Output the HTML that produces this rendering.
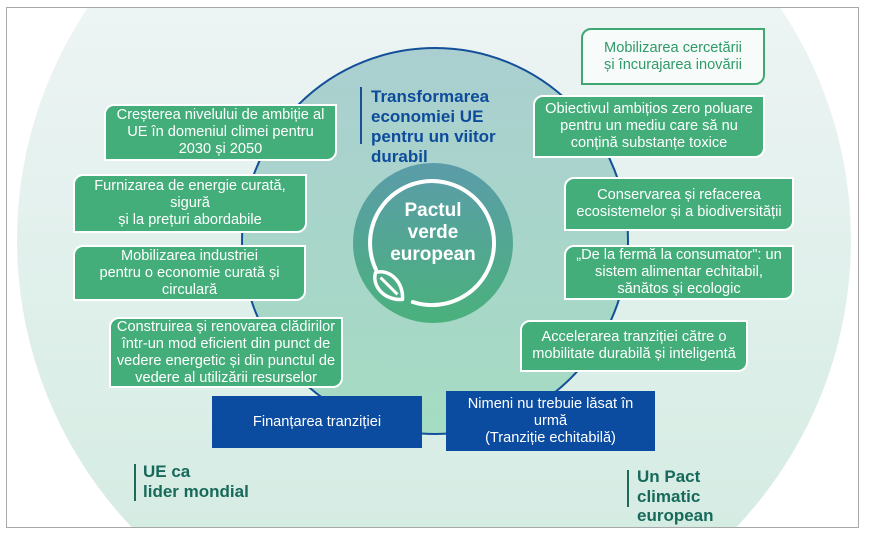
<!DOCTYPE html>
<html><head><meta charset="utf-8">
<style>
html,body{margin:0;padding:0;background:#fff;}
body{width:869px;height:538px;position:relative;overflow:hidden;font-family:"Liberation Sans",Arial,sans-serif;}
.b{position:absolute;box-sizing:border-box;display:flex;align-items:center;justify-content:center;text-align:center;color:#fff;font-size:14.6px;line-height:17px;white-space:nowrap;}
.g{background:#44ae7b;border:2px solid #fff;border-radius:10px 0 10px 0;}
.w{background:#f7fbfa;border:2px solid #3fa872;border-radius:10px 0 10px 0;color:#2f9a68;}
.bl{background:#0b4ca0;}
.lab{position:absolute;font-weight:bold;font-size:17px;line-height:20px;white-space:nowrap;}
</style></head><body>
<svg width="869" height="538" style="position:absolute;left:0;top:0;overflow:hidden">
<defs>
<linearGradient id="pale" x1="0" y1="0" x2="0" y2="1"><stop offset="0" stop-color="#edf4f4"/><stop offset="1" stop-color="#d5ece3"/></linearGradient>
<linearGradient id="mid" x1="0" y1="0" x2="0" y2="1"><stop offset="0" stop-color="#abcfd0"/><stop offset="1" stop-color="#a5dcc3"/></linearGradient>
<linearGradient id="inn" x1="0" y1="0" x2="0" y2="1"><stop offset="0" stop-color="#5b9ca9"/><stop offset="1" stop-color="#4ab17c"/></linearGradient>
</defs>
<path d="M87.5,8 L780.5,8 A417,417 0 0 1 736.5,527 L131.5,527 A417,417 0 0 1 87.5,8 Z" fill="url(#pale)"/>
<circle cx="435" cy="241" r="193" fill="url(#mid)" stroke="#144f99" stroke-width="2"/>
<circle cx="433" cy="243" r="80" fill="url(#inn)"/>
<path d="M375.8,269.2 A62,62 0 1 1 412.8,302" fill="none" stroke="#fff" stroke-width="4" stroke-linecap="round"/>
<g transform="translate(389,286) rotate(45)" fill="none" stroke="#fff" stroke-width="3.5" stroke-linejoin="round">
<path d="M-19,0 C-12,-13 8,-13 19,0 C8,13 -12,13 -19,0 Z"/>
<path d="M-12,0 L12,0" stroke-width="3"/>
</g>
<rect x="6.5" y="7.5" width="852" height="520" fill="none" stroke="#a8a8a8" stroke-width="1"/>
<rect x="360" y="87" width="2" height="57" fill="#1a4f9a"/>
<rect x="134" y="464" width="2" height="37" fill="#1d6a58"/>
<rect x="627" y="470" width="2" height="37" fill="#1d6a58"/>
</svg>

<div class="lab" style="left:371px;top:87px;color:#0d4b9b;">Transformarea<br>economiei UE<br>pentru un viitor<br>durabil</div>
<div class="lab" style="left:143px;top:462px;color:#17695a;">UE ca<br>lider mondial</div>
<div class="lab" style="left:637px;top:467px;color:#17695a;line-height:19.5px;">Un Pact<br>climatic<br>european</div>

<div style="position:absolute;left:353px;top:200px;width:160px;text-align:center;color:#fff;font-weight:bold;font-size:19px;line-height:22px;">Pactul<br>verde<br>european</div>

<div class="b g" style="left:104px;top:104px;width:233px;height:57px;">Creșterea nivelului de ambiție al<br>UE în domeniul climei pentru<br>2030 și 2050</div>
<div class="b g" style="left:73px;top:174px;width:234px;height:59px;">Furnizarea de energie curată,<br>sigură<br>și la prețuri abordabile</div>
<div class="b g" style="left:73px;top:245px;width:233px;height:56px;">Mobilizarea industriei<br>pentru o economie curată și<br>circulară</div>
<div class="b g" style="left:109px;top:317px;width:234px;height:71px;">Construirea și renovarea clădirilor<br>într-un mod eficient din punct de<br>vedere energetic și din punctul de<br>vedere al utilizării resurselor</div>

<div class="b w" style="left:581px;top:28px;width:184px;height:57px;">Mobilizarea cercetării<br>și încurajarea inovării</div>
<div class="b g" style="left:533px;top:95px;width:232px;height:63px;">Obiectivul ambițios zero poluare<br>pentru un mediu care să nu<br>conțină substanțe toxice</div>
<div class="b g" style="left:564px;top:177px;width:230px;height:54px;">Conservarea și refacerea<br>ecosistemelor și a biodiversității</div>
<div class="b g" style="left:564px;top:245px;width:230px;height:55px;">„De la fermă la consumator": un<br>sistem alimentar echitabil,<br>sănătos și ecologic</div>
<div class="b g" style="left:520px;top:320px;width:228px;height:52px;">Accelerarea tranziției către o<br>mobilitate durabilă și inteligentă</div>

<div class="b bl" style="left:212px;top:396px;width:210px;height:52px;">Finanțarea tranziției</div>
<div class="b bl" style="left:446px;top:391px;width:209px;height:60px;">Nimeni nu trebuie lăsat în<br>urmă<br>(Tranziție echitabilă)</div>
</body></html>
